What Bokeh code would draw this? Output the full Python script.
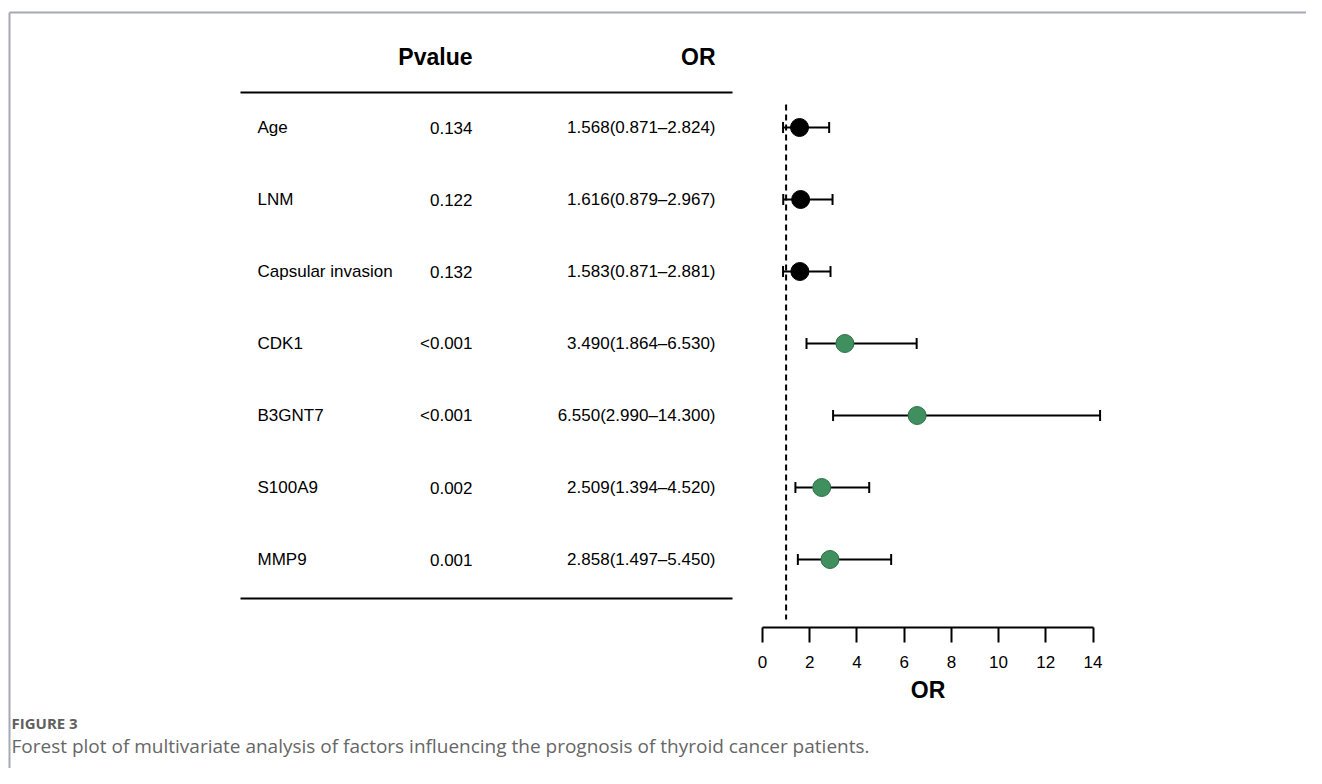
from bokeh.plotting import figure
from bokeh.models import (Range1d, LinearAxis, FixedTicker, ColumnDataSource,
                          Whisker, TeeHead)
from bokeh.core.properties import value
from bokeh.embed import file_html
from bokeh.resources import INLINE

# ---------------- data ----------------
names = ["Age", "LNM", "Capsular invasion", "CDK1", "B3GNT7", "S100A9", "MMP9"]
pvalues = ["0.134", "0.122", "0.132", "<0.001", "<0.001", "0.002", "0.001"]
or_est = [1.568, 1.616, 1.583, 3.490, 6.550, 2.509, 2.858]
or_low = [0.871, 0.879, 0.871, 1.864, 2.990, 1.394, 1.497]
or_high = [2.824, 2.967, 2.881, 6.530, 14.300, 4.520, 5.450]
point_colors = ["black", "black", "black", "#3f8f5f", "#3f8f5f", "#3f8f5f", "#3f8f5f"]
point_lines = ["black", "black", "black", "#2e6e48", "#2e6e48", "#2e6e48", "#2e6e48"]
or_ticks = [0, 2, 4, 6, 8, 10, 12, 14]
ref_line = 1
header_p = "Pvalue"
header_or = "OR"
axis_title = "OR"
fig_label = "FIGURE 3"
caption = "Forest plot of multivariate analysis of factors influencing the prognosis of thyroid cancer patients."

or_text = ["%.3f(%.3f\u2013%.3f)" % (e, l, h) for e, l, h in zip(or_est, or_low, or_high)]
rows = list(range(len(names)))

# ---------------- layout helpers (page pixels) ----------------
W, H = 1306, 768
OX, OY = 0, 0            # where the canvas starts on the page
X0_PX, PX_PER_OR = 762.0, 330.5 / 14
ROW0_PX, ROW_STEP = 127.0, 72.0

def rowy(py):
    return (py - ROW0_PX) / ROW_STEP

FONT = value("Liberation Sans")
CAPFONT = value("Open Sans")

p = figure(width=W, height=H, output_backend="svg", toolbar_location=None,
           x_axis_location=None, y_axis_location=None,
           x_range=Range1d((OX - X0_PX) / PX_PER_OR, (OX + W - X0_PX) / PX_PER_OR),
           y_range=Range1d(rowy(OY + H), rowy(OY)),
           min_border=0, outline_line_color=None,
           background_fill_color="white", border_fill_color="white")
p.extra_x_ranges = {"px": Range1d(OX, OX + W)}
p.extra_y_ranges = {"px": Range1d(OY + H, OY)}
p.xgrid.visible = False
p.ygrid.visible = False

src = ColumnDataSource(dict(name=names, pv=pvalues, ort=or_text, est=or_est,
                            lo=or_low, hi=or_high, y=rows,
                            fc=point_colors, lc=point_lines))

# page frame lines
p.segment(x0=[9, 9], y0=[12, 12], x1=[OX + W, 9], y1=[12, OY + H],
          x_range_name="px", y_range_name="px",
          line_color="#a7a8b6", line_width=2)

# table rules
p.segment(x0=[240, 240], x1=[732, 732], y0=[92, 598], y1=[92, 598],
          x_range_name="px", y_range_name="px", line_color="black", line_width=2)

# headers
p.text(x=[472, 715], y=[56, 56], text=[header_p, header_or],
       x_range_name="px", y_range_name="px",
       text_font=FONT, text_font_style="bold", text_font_size="23px",
       text_align="right", text_baseline="middle", text_color="black")

# table body
p.text(x=257, y="y", text="name", source=src, x_range_name="px",
       text_font=FONT, text_font_size="17px", text_align="left",
       text_baseline="middle", text_color="black")
p.text(x=472, y="y", text="pv", source=src, x_range_name="px",
       text_font=FONT, text_font_size="17px", text_align="right",
       text_baseline="middle", text_color="black")
p.text(x=715, y="y", text="ort", source=src, x_range_name="px",
       text_font=FONT, text_font_size="17px", text_align="right",
       text_baseline="middle", text_color="black")

# reference line
p.segment(x0=[ref_line], x1=[ref_line], y0=[rowy(104)], y1=[rowy(619)],
          line_color="black", line_width=2, line_dash="6 4")

# error bars
wh = Whisker(source=src, base="y", lower="lo", upper="hi", dimension="width",
             line_color="black", line_width=2, level="underlay",
             lower_head=TeeHead(size=11, line_width=2, line_color="black"),
             upper_head=TeeHead(size=11, line_width=2, line_color="black"))
p.add_layout(wh)

# points
p.scatter(x="est", y="y", source=src, size=18, fill_color="fc",
          line_color="lc", line_width=1)

# OR axis
ax = LinearAxis(fixed_location=rowy(627), bounds=(0, 14),
                ticker=FixedTicker(ticks=or_ticks), axis_label=axis_title)
ax.axis_line_width = 2
ax.axis_line_color = "black"
ax.major_tick_line_width = 2
ax.major_tick_line_color = "black"
ax.major_tick_out = 15
ax.major_tick_in = 0
ax.minor_tick_out = 0
ax.minor_tick_in = 0
ax.major_label_standoff = 13
ax.major_label_text_font = "Liberation Sans"
ax.major_label_text_font_size = "17px"
ax.major_label_text_color = "black"
ax.axis_label_standoff = 6
ax.axis_label_text_font = "Liberation Sans"
ax.axis_label_text_font_size = "23px"
ax.axis_label_text_font_style = "bold"
ax.axis_label_text_color = "black"
p.add_layout(ax, "below")

# caption
p.text(x=[11], y=[722], text=[fig_label], x_range_name="px", y_range_name="px",
       text_font=CAPFONT, text_font_size="15px", text_font_style="bold",
       text_color="#5f5f5f", text_align="left", text_baseline="middle")
p.text(x=[11], y=[745], text=[caption], x_range_name="px", y_range_name="px",
       text_font=CAPFONT, text_font_size="19px",
       text_color="#666666", text_align="left", text_baseline="middle")

open("out.html", "w").write(file_html(p, INLINE))
